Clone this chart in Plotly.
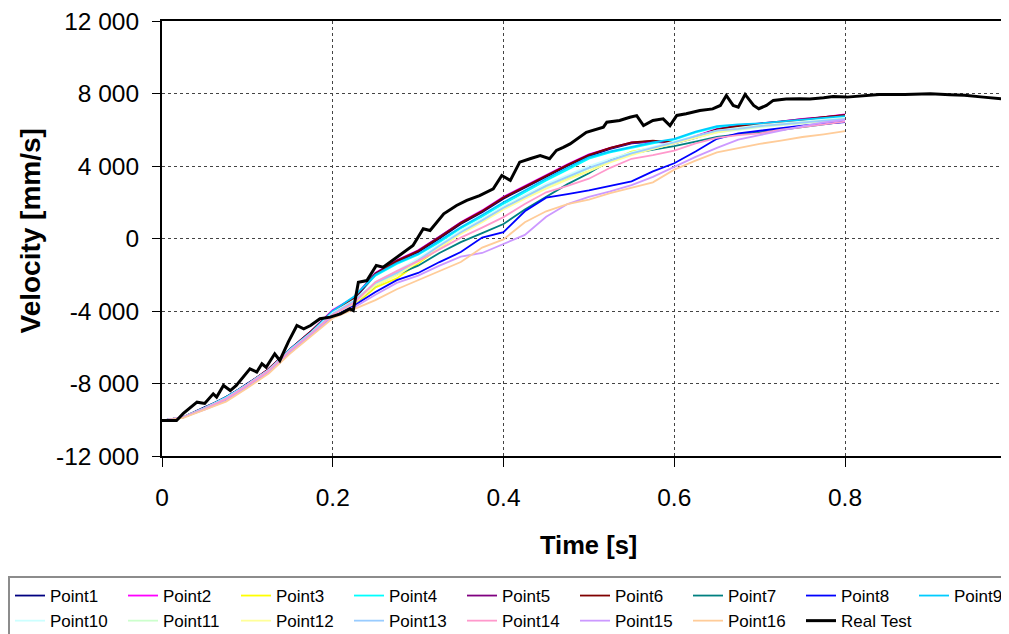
import plotly.graph_objects as go

# ---------------- data ----------------
T_POINTS = [0, 0.025, 0.05, 0.075, 0.1, 0.125, 0.15, 0.175, 0.2, 0.225, 0.25, 0.275, 0.3,
            0.325, 0.35, 0.375, 0.4, 0.425, 0.45, 0.475, 0.5, 0.525, 0.55, 0.575, 0.6,
            0.625, 0.65, 0.675, 0.7, 0.725, 0.75, 0.775, 0.8]

P1 = [-10050, -9850, -9300, -8800, -8000, -7250, -6100, -5150, -4050, -3350, -2000, -1300, -750,
      0, 800, 1450, 2200, 2800, 3400, 4000, 4550, 4950, 5250, 5350, 5250, 5550, 5950, 6150, 6300,
      6400, 6550, 6650, 6750]
P2 = [-10050, -9850, -9350, -8750, -8050, -7200, -6100, -5100, -3950, -3250, -1900, -1200, -650,
      100, 900, 1550, 2300, 2900, 3500, 4100, 4650, 5000, 5300, 5350, 5250, 5650, 6050, 6250, 6350,
      6450, 6600, 6700, 6850]
P3 = [-10050, -9850, -9350, -8800, -8050, -7300, -6200, -5200, -4150, -3700, -2700, -2200, -1350,
      -500, 300, 1000, 1700, 2300, 2900, 3300, 3700, 4300, 4800, 5000, 5300, 5600, 5950, 6100, 6250,
      6350, 6450, 6550, 6700]
P4 = [-10050, -9850, -9350, -8750, -8050, -7250, -6150, -5150, -4050, -3250, -2050, -1400, -900,
      -200, 550, 1200, 1900, 2550, 3200, 3800, 4400, 4750, 5000, 5250, 5450, 5850, 6150, 6250, 6330,
      6420, 6520, 6620, 6720]
P5 = [-10050, -9850, -9350, -8750, -8050, -7200, -6100, -5100, -4000, -3280, -1920, -1220, -680,
      80, 880, 1520, 2270, 2870, 3470, 4070, 4620, 4980, 5280, 5380, 5280, 5620, 6020, 6220, 6340,
      6440, 6580, 6690, 6820]
P6 = [-10050, -9850, -9350, -8750, -8050, -7200, -6100, -5100, -4020, -3300, -1950, -1250, -700,
      50, 850, 1500, 2250, 2850, 3450, 4050, 4600, 5000, 5300, 5400, 5300, 5600, 6000, 6200, 6330,
      6420, 6550, 6700, 6800]
P7 = [-10050, -9850, -9400, -8850, -8100, -7300, -6200, -5250, -4250, -3600, -2600, -2000, -1500,
      -800, -200, 300, 800, 1600, 2300, 3000, 3600, 4300, 4700, 4900, 5100, 5350, 5600, 5750, 5850,
      6000, 6150, 6300, 6450]
P8 = [-10050, -9850, -9400, -8900, -8150, -7350, -6250, -5300, -4300, -3700, -2950, -2300, -1900,
      -1300, -750, 50, 350, 1500, 2250, 2450, 2650, 2900, 3150, 3700, 4150, 4800, 5500, 5800, 5950,
      6100, 6230, 6330, 6420]
P9 = [-10050, -9850, -9350, -8750, -8050, -7250, -6100, -5150, -4000, -3200, -2000, -1350, -850,
      -100, 620, 1300, 2000, 2650, 3300, 3900, 4480, 4800, 5050, 5300, 5500, 5900, 6200, 6300, 6350,
      6450, 6550, 6650, 6750]
P10 = [-10050, -9850, -9350, -8800, -8050, -7250, -6150, -5200, -4100, -3400, -2400, -1800, -1100,
       -300, 450, 1100, 1800, 2400, 3000, 3500, 4000, 4400, 4750, 5050, 5350, 5650, 5950, 6100, 6250,
       6350, 6450, 6550, 6650]
P11 = [-10050, -9850, -9400, -8850, -8100, -7300, -6200, -5250, -4200, -3550, -2550, -1950, -1250,
       -450, 300, 950, 1650, 2250, 2850, 3350, 3850, 4250, 4650, 4950, 5250, 5550, 5850, 6000, 6150,
       6250, 6350, 6450, 6600]
P12 = [-10050, -9850, -9400, -8850, -8100, -7300, -6200, -5250, -4200, -3600, -2600, -2050, -1300,
       -500, 250, 900, 1600, 2200, 2750, 3250, 3700, 4200, 4600, 4950, 5250, 5550, 5850, 6050, 6200,
       6300, 6400, 6500, 6600]
P13 = [-10050, -9850, -9350, -8800, -8050, -7250, -6150, -5200, -4150, -3450, -2450, -1900, -1200,
       -400, 350, 1000, 1700, 2300, 2900, 3400, 3900, 4300, 4700, 5000, 5300, 5650, 5950, 6050, 6200,
       6300, 6400, 6500, 6600]
P14 = [-10050, -9850, -9400, -8850, -8100, -7300, -6200, -5250, -4200, -3550, -2400, -1800, -1250,
       -600, 50, 600, 1180, 1900, 2550, 2900, 3300, 3900, 4400, 4600, 4850, 5250, 5550, 5700, 5800,
       6000, 6150, 6300, 6450]
P15 = [-10050, -9850, -9450, -8950, -8200, -7400, -6300, -5350, -4350, -3800, -3100, -2450, -2050,
       -1500, -1000, -800, -300, 200, 1200, 1900, 2300, 2600, 2950, 3400, 3950, 4500, 5000, 5450, 5700,
       5950, 6200, 6400, 6550]
P16 = [-10050, -9900, -9450, -9000, -8250, -7450, -6350, -5400, -4400, -3900, -3400, -2800, -2300,
       -1800, -1300, -500, -50, 900, 1500, 1900, 2150, 2500, 2800, 3100, 3800, 4300, 4750, 5000, 5220,
       5400, 5600, 5750, 5920]

T_REAL = [0, 0.017, 0.025, 0.041, 0.05, 0.06, 0.064, 0.072, 0.08, 0.087, 0.103, 0.111, 0.117, 0.122,
          0.132, 0.138, 0.148, 0.158, 0.166, 0.174, 0.185, 0.197, 0.209, 0.22, 0.224, 0.23, 0.24,
          0.251, 0.259, 0.275, 0.294, 0.306, 0.314, 0.33, 0.345, 0.357, 0.372, 0.388, 0.398, 0.408,
          0.419, 0.431, 0.443, 0.454, 0.462, 0.47, 0.478, 0.497, 0.517, 0.521, 0.536, 0.548, 0.556,
          0.564, 0.575, 0.587, 0.595, 0.603, 0.614, 0.63, 0.645, 0.654, 0.661, 0.669, 0.675, 0.683,
          0.693, 0.699, 0.708, 0.716, 0.731, 0.747, 0.759, 0.775, 0.786, 0.802, 0.818, 0.84, 0.87,
          0.9, 0.923, 0.94, 0.962, 0.975, 0.989, 1.0]
V_REAL = [-10040, -10040, -9650, -9030, -9100, -8570, -8750, -8110, -8390, -8110, -7190, -7370, -6910,
          -7100, -6360, -6730, -5700, -4800, -4980, -4800, -4430, -4340, -4160, -3880, -3970, -2410,
          -2320, -1490, -1580, -1030, -390, 540, 440, 1360, 1820, 2100, 2370, 2740, 3480, 3200, 4210,
          4400, 4580, 4400, 4860, 5030, 5220, 5860, 6140, 6420, 6510, 6690, 6780, 6230, 6510, 6600,
          6230, 6790, 6880, 7060, 7150, 7340, 7890, 7340, 7250, 7950, 7340, 7160, 7340, 7620, 7700,
          7710, 7700, 7760, 7830, 7800, 7850, 7950, 7950, 7980, 7930, 7900, 7800, 7750, 7670, 7640]

SERIES_NAMES = ["Point1", "Point2", "Point3", "Point4", "Point5", "Point6", "Point7", "Point8",
                "Point9", "Point10", "Point11", "Point12", "Point13", "Point14", "Point15", "Point16"]
SERIES_VALUES = [P1, P2, P3, P4, P5, P6, P7, P8, P9, P10, P11, P12, P13, P14, P15, P16]
SERIES_COLORS = ["#000080", "#FF00FF", "#FFFF00", "#00FFFF", "#800080", "#800000", "#008080",
                 "#0000FF", "#00CCFF", "#CCFFFF", "#CCFFCC", "#FFFF99", "#99CCFF", "#FF99CC",
                 "#CC99FF", "#FFCC99"]

Y_TICKS = [-12000, -8000, -4000, 0, 4000, 8000, 12000]
Y_TICK_TEXT = ["-12 000", "-8 000", "-4 000", "0", "4 000", "8 000", "12 000"]
X_TICKS = [0, 0.2, 0.4, 0.6, 0.8]
X_TICK_TEXT = ["0", "0.2", "0.4", "0.6", "0.8"]
X_TITLE = "<b>Time [s]</b>"
Y_TITLE = "<b>Velocity [mm/s]</b>"

# ---------------- layout geometry (figure px; page adds an 8px body offset) ----------------
FIG_W, FIG_H = 1017, 634
M_L, M_T, PLOT_W, PLOT_H = 154, 13, 863, 435
PX_PER_UNIT = 853.75
LEGEND_TOP = 568

FONT = "Liberation Sans, Arial, sans-serif"
fig = go.Figure()

for name, vals, col in zip(SERIES_NAMES, SERIES_VALUES, SERIES_COLORS):
    fig.add_trace(go.Scatter(x=T_POINTS, y=vals, mode="lines", name=name,
                             line=dict(color=col, width=1.8)))

fig.add_trace(go.Scatter(x=T_REAL, y=V_REAL, mode="lines", name="Real Test",
                         line=dict(color="black", width=3)))

fig.update_layout(
    width=FIG_W, height=FIG_H,
    margin=dict(l=M_L, r=FIG_W - M_L - PLOT_W, t=M_T, b=FIG_H - M_T - PLOT_H, autoexpand=False),
    paper_bgcolor="white", plot_bgcolor="white",
    font=dict(family=FONT, color="black"),
    showlegend=True,
    legend=dict(
        orientation="h",
        x=-M_L / PLOT_W, xanchor="left",
        y=-(LEGEND_TOP - (M_T + PLOT_H)) / PLOT_H, yanchor="top",
        entrywidth=68, entrywidthmode="pixels",
        font=dict(family=FONT, size=17, color="black"),
        bordercolor="#8c8c8c", borderwidth=2, bgcolor="white",
        itemwidth=30, tracegroupgap=0,
    ),
    annotations=[
        dict(text=X_TITLE, xref="paper", yref="paper", x=(580 - M_L) / PLOT_W, y=0,
             xanchor="center", yanchor="middle", yshift=-89, showarrow=False,
             font=dict(family=FONT, size=25.5, color="black")),
        dict(text=Y_TITLE, xref="paper", yref="paper", x=0, y=0.5, textangle=-90,
             xanchor="center", yanchor="middle", xshift=-132, yshift=7, showarrow=False,
             font=dict(family=FONT, size=28, color="black")),
    ],
)

fig.update_xaxes(
    range=[0, PLOT_W / PX_PER_UNIT], tickvals=X_TICKS, ticktext=X_TICK_TEXT,
    showline=True, linecolor="black", linewidth=2, mirror=True,
    ticks="outside", ticklen=9, tickcolor="black", tickwidth=1,
    showgrid=True, gridcolor="#444444", griddash="3px,3px", gridwidth=1,
    zeroline=False, automargin=False, ticklabeloverflow="allow",
    tickfont=dict(family=FONT, size=24.5, color="black"),
    ticklabelstandoff=10,
)
fig.update_yaxes(
    range=[-12000, 12000], tickvals=Y_TICKS, ticktext=Y_TICK_TEXT,
    showline=True, linecolor="black", linewidth=2, mirror=False,
    ticks="outside", ticklen=8, tickcolor="black", tickwidth=1,
    showgrid=True, gridcolor="#444444", griddash="3px,3px", gridwidth=1,
    zeroline=False, automargin=False, ticklabeloverflow="allow",
    tickfont=dict(family=FONT, size=24.5, color="black"),
    ticklabelstandoff=8,
)

fig.write_html("out.html")
